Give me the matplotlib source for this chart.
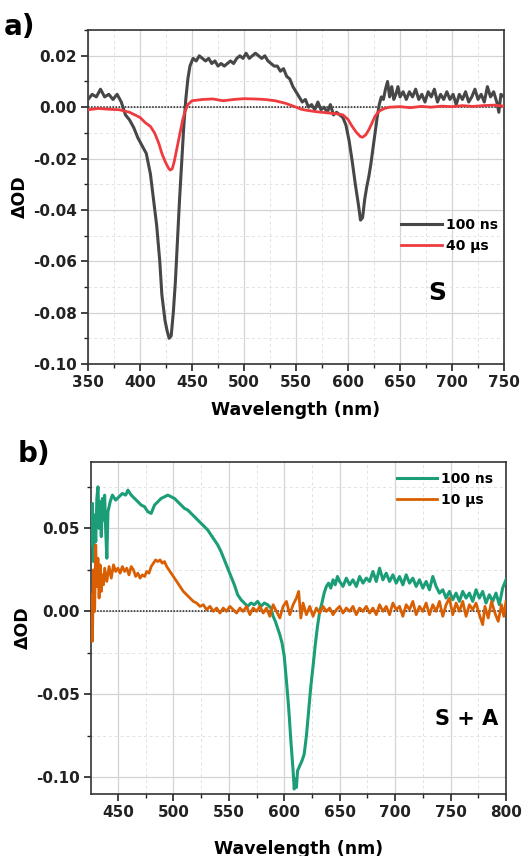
import numpy as np
import matplotlib
matplotlib.use("Agg")
import matplotlib.pyplot as plt
from matplotlib.ticker import MultipleLocator, FuncFormatter

plt.rcParams['font.family'] = ['DejaVu Sans']
plt.rcParams['font.weight'] = 'bold'
plt.rcParams['axes.labelweight'] = 'bold'

# Panel a) sample S
wl_a_100ns = [350, 354, 358, 362, 366, 370, 374, 378, 382, 386, 390, 394, 398, 402, 406, 410,
              413, 416, 419, 421, 424, 426, 428, 430, 432, 434, 436, 438, 440, 442, 444, 446,
              448, 451, 454, 457, 460, 463, 466, 469, 472, 475, 478, 481, 484, 487, 490, 493,
              496, 499, 502, 505, 508, 511, 514, 517, 520, 523, 526, 529, 532, 535, 538, 541,
              544, 547, 550, 553, 556, 559, 562, 565, 568, 571, 574, 577, 580, 583, 586, 589,
              592, 595, 598, 601, 604, 607, 610, 612, 614, 616, 618, 620, 622, 624, 626, 628,
              630, 632, 634, 636, 638, 640, 642, 644, 646, 648, 650, 653, 656, 659, 662, 665,
              668, 671, 674, 677, 680, 683, 686, 689, 692, 695, 698, 701, 704, 707, 710, 713,
              716, 719, 722, 725, 728, 731, 734, 737, 740, 743, 745, 747, 750]
od_a_100ns = [0.003, 0.005, 0.004, 0.007, 0.004, 0.005, 0.003, 0.005, 0.002, -0.003, -0.005, -0.008,
              -0.012, -0.015, -0.018, -0.026, -0.036, -0.046, -0.060, -0.073, -0.083, -0.087, -0.090,
              -0.089, -0.080, -0.068, -0.052, -0.036, -0.022, -0.008, 0.003, 0.011, 0.016, 0.019,
              0.018, 0.020, 0.019, 0.018, 0.019, 0.017, 0.018, 0.016, 0.017, 0.016, 0.017, 0.018,
              0.017, 0.019, 0.020, 0.019, 0.021, 0.019, 0.020, 0.021, 0.020, 0.019, 0.020, 0.018,
              0.017, 0.016, 0.016, 0.014, 0.015, 0.012, 0.011, 0.008, 0.006, 0.004, 0.002, 0.003,
              0.000, 0.001, -0.001, 0.002, -0.001, 0.000, -0.002, 0.001, -0.003, -0.002, -0.003,
              -0.004, -0.007, -0.013, -0.021, -0.030, -0.038, -0.044, -0.043, -0.036, -0.031,
              -0.027, -0.022, -0.016, -0.010, -0.004, 0.001, 0.004, 0.003, 0.007, 0.010, 0.004,
              0.008, 0.003, 0.005, 0.008, 0.004, 0.006, 0.003, 0.006, 0.004, 0.007, 0.003, 0.005,
              0.002, 0.006, 0.004, 0.007, 0.002, 0.005, 0.003, 0.006, 0.003, 0.005, 0.001, 0.005,
              0.003, 0.006, 0.002, 0.004, 0.007, 0.003, 0.005, 0.002, 0.008, 0.004, 0.006, 0.002,
              -0.002, 0.005, 0.004]

wl_a_40us = [350, 360, 370, 380, 385, 390, 395, 400, 405, 410, 414, 418, 421, 424, 427, 429, 431,
             433, 435, 437, 439, 441, 443, 446, 450, 460, 470, 480, 490, 500, 510, 520, 530, 540,
             550, 555, 560, 570, 580, 590, 595, 600, 604, 608, 612, 614, 617, 620, 623, 626, 630,
             635, 640, 650, 660, 670, 680, 690, 700, 710, 720, 730, 740, 750]
od_a_40us = [-0.001, -0.0005, -0.0008, -0.001, -0.0015, -0.002, -0.003, -0.004, -0.006, -0.0075,
             -0.010, -0.014, -0.018, -0.021, -0.0235, -0.0245, -0.024, -0.021, -0.017, -0.013,
             -0.009, -0.005, -0.002, 0.001, 0.0025, 0.003, 0.0032, 0.0025, 0.003, 0.0033, 0.0032,
             0.003, 0.0025, 0.0015, 0.0, -0.0008, -0.0012, -0.0018, -0.0022, -0.0026, -0.003,
             -0.0048, -0.0075, -0.0098, -0.0115, -0.0117, -0.0108, -0.0088, -0.0062, -0.0035,
             -0.0015, -0.0005, 0.0, 0.0002, -0.0002, 0.0003, 0.0, 0.0004, 0.0002, 0.0006, 0.0003,
             0.0006, 0.0008, 0.0004]

# Panel b) sample S + A
wl_b_100ns = [426, 427, 428, 429, 430, 431, 432, 433, 434, 435, 436, 437, 438, 439, 440, 441, 443,
              445, 448, 451, 454, 457, 459, 462, 465, 468, 471, 474, 477, 480, 483, 486, 489, 492,
              495, 498, 501, 504, 507, 510, 513, 516, 519, 522, 525, 528, 531, 534, 537, 540, 543,
              546, 549, 552, 555, 558, 561, 564, 567, 570, 573, 576, 579, 582, 585, 588, 590, 592,
              594, 596, 598, 600, 602, 604, 606, 608, 609, 610, 611, 612, 614, 616, 618, 620, 622,
              624, 626, 628, 630, 632, 634, 636, 638, 640, 642, 644, 646, 648, 650, 653, 656, 659,
              662, 665, 668, 671, 674, 677, 680, 683, 686, 689, 692, 695, 698, 701, 704, 707, 710,
              713, 716, 719, 722, 725, 728, 731, 734, 737, 740, 743, 746, 749, 752, 755, 758, 761,
              764, 767, 770, 773, 776, 779, 782, 785, 788, 791, 794, 797, 800]
od_b_100ns = [0.040, 0.065, 0.030, 0.058, 0.042, 0.068, 0.075, 0.050, 0.066, 0.045, 0.068, 0.055,
              0.070, 0.048, 0.032, 0.060, 0.066, 0.070, 0.067, 0.069, 0.071, 0.070, 0.073, 0.070,
              0.068, 0.066, 0.064, 0.063, 0.060, 0.059, 0.064, 0.066, 0.068, 0.069, 0.070, 0.069,
              0.068, 0.066, 0.064, 0.062, 0.061, 0.059, 0.057, 0.055, 0.053, 0.051, 0.049, 0.046,
              0.043, 0.040, 0.036, 0.031, 0.026, 0.021, 0.016, 0.010, 0.007, 0.005, 0.003, 0.005,
              0.004, 0.006, 0.003, 0.005, 0.004, 0.002, -0.003, -0.006, -0.010, -0.014, -0.019,
              -0.027, -0.042, -0.058, -0.078, -0.096, -0.107, -0.101, -0.106, -0.096, -0.093,
              -0.090, -0.086, -0.075, -0.060, -0.045, -0.033, -0.020, -0.009, 0.000, 0.005, 0.011,
              0.015, 0.017, 0.014, 0.019, 0.016, 0.021, 0.018, 0.015, 0.020, 0.016, 0.019, 0.015,
              0.021, 0.017, 0.020, 0.018, 0.024, 0.018, 0.026, 0.019, 0.023, 0.018, 0.022, 0.017,
              0.021, 0.016, 0.022, 0.017, 0.020, 0.015, 0.019, 0.014, 0.018, 0.013, 0.021, 0.015,
              0.011, 0.013, 0.008, 0.012, 0.007, 0.011, 0.006, 0.012, 0.008, 0.011, 0.006, 0.013,
              0.008, 0.012, 0.005, 0.010, 0.006, 0.011, 0.004, 0.014, 0.019]

wl_b_10us = [426, 427, 428, 429, 430, 431, 432, 433, 434, 435, 436, 437, 438, 440, 442, 444, 446,
             448, 450, 452, 454, 456, 458, 460, 462, 464, 466, 468, 470, 472, 474, 476, 478, 480,
             482, 484, 486, 488, 490, 492, 494, 496, 498, 500, 503, 506, 509, 512, 515, 518, 521,
             524, 527, 530, 533, 536, 539, 542, 545, 548, 551, 554, 557, 560, 563, 566, 569, 572,
             575, 578, 581, 584, 587, 590, 593, 596, 599, 602, 605, 608, 611, 613, 615, 617, 620,
             623, 626, 629, 632, 635, 638, 641, 644, 647, 650, 653, 656, 659, 662, 665, 668, 671,
             674, 677, 680, 683, 686, 689, 692, 695, 698, 701, 704, 707, 710, 713, 716, 719, 722,
             725, 728, 731, 734, 737, 740, 743, 746, 749, 752, 755, 758, 761, 764, 767, 770, 773,
             776, 779, 781, 784, 787, 790, 793, 796, 798, 800]
od_b_10us = [0.010, -0.018, 0.025, 0.000, 0.040, 0.015, 0.032, 0.008, 0.028, 0.012, 0.022, 0.016,
             0.026, 0.018, 0.027, 0.020, 0.028, 0.024, 0.026, 0.023, 0.027, 0.024, 0.026, 0.022,
             0.027, 0.025, 0.021, 0.023, 0.020, 0.022, 0.021, 0.024, 0.023, 0.027, 0.029, 0.031,
             0.030, 0.031, 0.029, 0.030, 0.027, 0.025, 0.023, 0.021, 0.018, 0.015, 0.012, 0.010,
             0.008, 0.006, 0.005, 0.003, 0.004, 0.001, 0.003, 0.000, 0.002, -0.001, 0.002, 0.000,
             0.003, 0.001, -0.001, 0.002, 0.000, 0.003, -0.002, 0.002, 0.000, 0.003, -0.001, 0.002,
             -0.003, 0.004, 0.000, -0.004, 0.003, 0.006, -0.002, 0.004, 0.008, 0.012, -0.004, 0.005,
             -0.002, 0.003, -0.003, 0.002, -0.001, 0.003, 0.000, 0.002, -0.002, 0.001, 0.003,
             -0.001, 0.002, 0.000, 0.003, -0.002, 0.002, 0.000, 0.003, -0.001, 0.002, -0.002, 0.004,
             0.000, 0.003, -0.002, 0.005, 0.001, 0.003, -0.003, 0.004, 0.001, 0.006, -0.002, 0.003,
             0.000, 0.005, -0.002, 0.004, 0.000, 0.006, -0.003, 0.004, 0.008, -0.002, 0.005, 0.000,
             0.006, -0.003, 0.004, 0.001, 0.005, -0.002, -0.008, 0.003, -0.004, 0.006, -0.001,
             -0.006, 0.004, -0.003, 0.006]

c_gray = '#474747'
c_red = '#ee3b3f'
c_green = '#1b9e77'
c_orange = '#d95f02'

fig = plt.figure(figsize=(5.22, 8.56), dpi=100)
ax1 = fig.add_axes([0.1686, 0.5748, 0.797, 0.390])
ax2 = fig.add_axes([0.1743, 0.0724, 0.795, 0.388])


def fmt_od(v, pos):
    v = round(v, 4)
    if v == 0:
        v = 0.0
    return '%.2f' % v


def style_axis(ax, xmaj, xmin, ymaj, ymin, xpad):
    ax.xaxis.set_major_locator(MultipleLocator(xmaj))
    ax.xaxis.set_minor_locator(MultipleLocator(xmin))
    ax.yaxis.set_major_locator(MultipleLocator(ymaj))
    ax.yaxis.set_minor_locator(MultipleLocator(ymin))
    ax.yaxis.set_major_formatter(FuncFormatter(fmt_od))
    ax.grid(True, which='major', color='#d4d4d4', lw=0.9, ls='-')
    ax.grid(True, which='minor', color='#e2e2e2', lw=0.7, ls=(0, (3, 3)))
    ax.set_axisbelow(True)
    ax.tick_params(which='major', direction='out', length=5, width=1.2, labelsize=11,
                   colors='#222222', pad=3)
    ax.tick_params(which='minor', direction='out', length=3, width=1.0, colors='#222222')
    for s in ax.spines.values():
        s.set_color('#333333')
        s.set_linewidth(1.2)
    ax.axhline(0, color='#222222', lw=1.1, ls=(0, (1, 1)), zorder=1)
    ax.set_xlabel('Wavelength (nm)', fontsize=12.5, labelpad=xpad)
    ax.set_ylabel('ΔOD', fontsize=12.5, labelpad=3)


ax1.plot(wl_a_100ns, od_a_100ns, color=c_gray, lw=2.2, label='100 ns', zorder=3)
ax1.plot(wl_a_40us, od_a_40us, color=c_red, lw=2.0, label='40 µs', zorder=4)
ax1.set_xlim(350, 750)
ax1.set_ylim(-0.10, 0.030)
style_axis(ax1, 50, 25, 0.02, 0.01, 8)
ax1.legend(loc='upper left', bbox_to_anchor=(0.74, 0.455), frameon=False, fontsize=10,
           handlelength=2.9, handletextpad=0.3, labelspacing=0.5, borderaxespad=0)
ax1.text(0.84, 0.213, 'S', transform=ax1.transAxes, fontsize=18, ha='center', va='center')

ax2.plot(wl_b_100ns, od_b_100ns, color=c_green, lw=2.2, label='100 ns', zorder=3)
ax2.plot(wl_b_10us, od_b_10us, color=c_orange, lw=2.0, label='10 µs', zorder=4)
ax2.set_xlim(425.7, 800)
ax2.set_ylim(-0.11, 0.09)
style_axis(ax2, 50, 25, 0.05, 0.025, 14)
ax2.legend(loc='upper right', bbox_to_anchor=(0.99, 0.995), frameon=False, fontsize=10,
           handlelength=2.9, handletextpad=0.3, labelspacing=0.5, borderaxespad=0.2)
ax2.text(0.905, 0.226, 'S + A', transform=ax2.transAxes, fontsize=15, ha='center', va='center')

fig.text(0.008, 0.968, 'a)', fontsize=20, ha='left', va='center')
fig.text(0.033, 0.470, 'b)', fontsize=20, ha='left', va='center')

fig.savefig('out.png', dpi=100)
